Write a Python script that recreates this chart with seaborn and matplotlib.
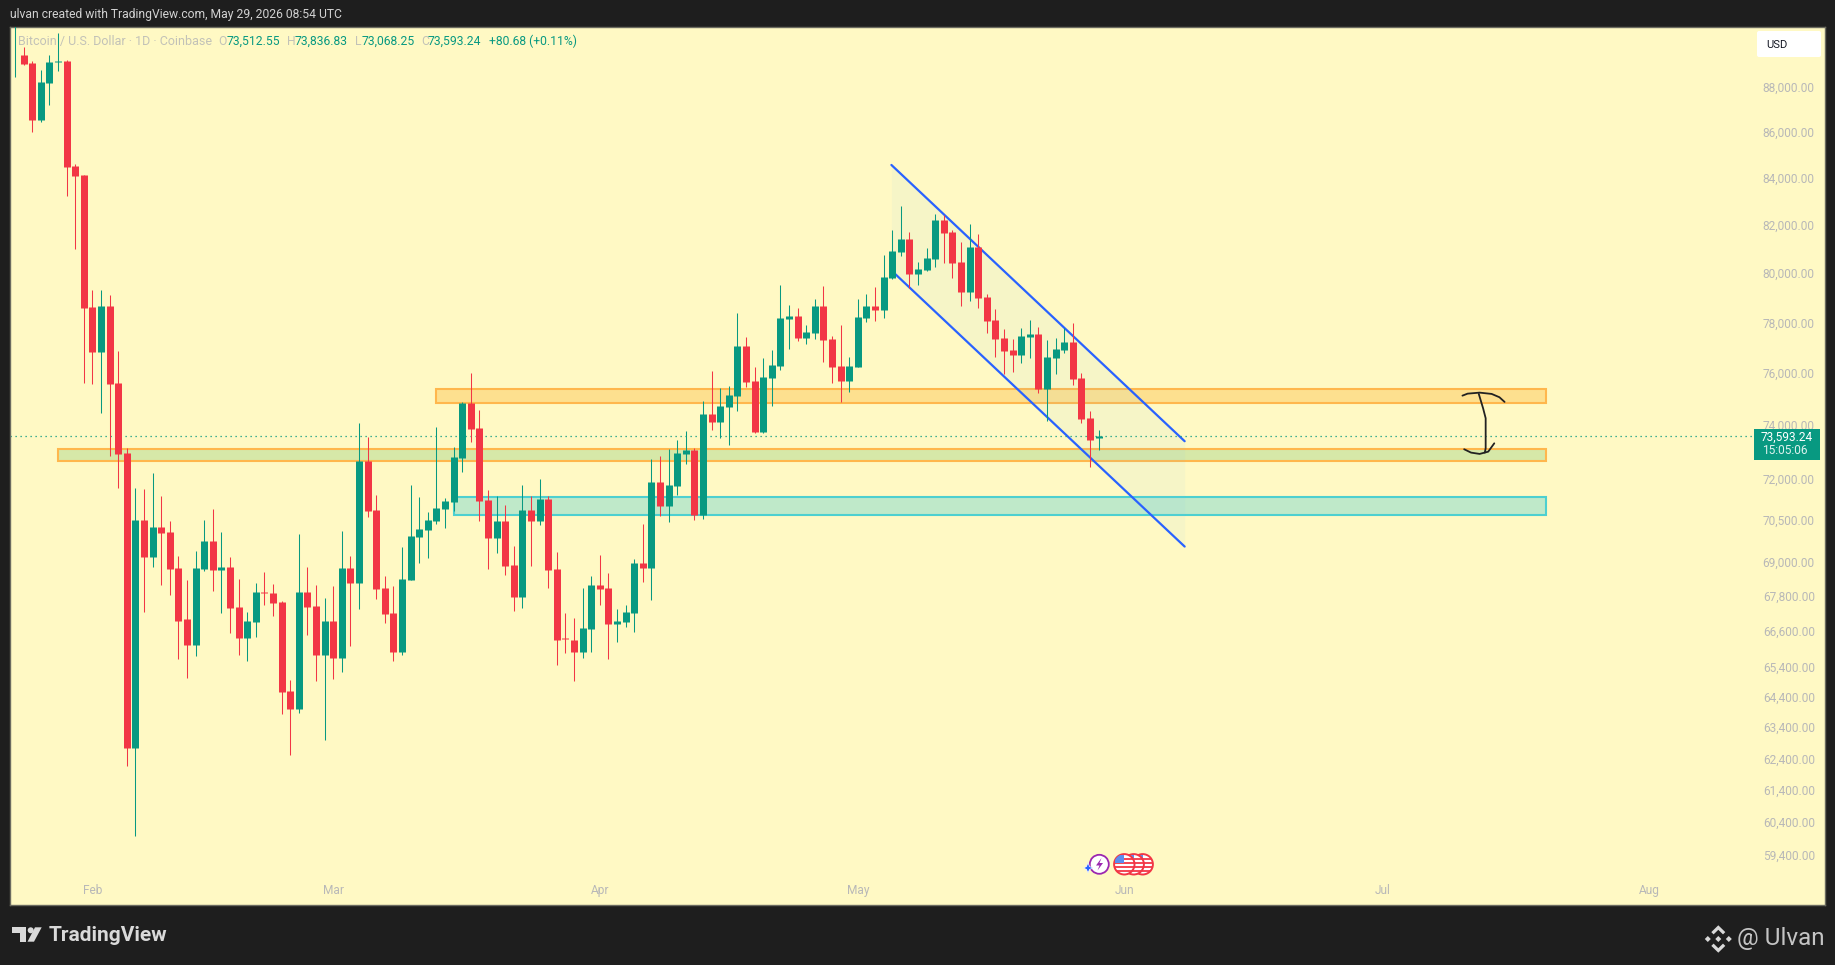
import numpy as np
import pandas as pd
import matplotlib
matplotlib.use("Agg")
import matplotlib.pyplot as plt
from matplotlib.patches import Rectangle, Circle, Polygon, FancyBboxPatch
from matplotlib.ticker import NullLocator
import seaborn as sns

# daily BTCUSD candles, Jan 23 to May 29
first_day = -9  # days since Feb 1
opens = [89420, 89442, 89079, 86521, 88173, 89116, 89170, 84505, 84118, 78623,
         76831, 78663, 75625, 72959, 62736, 70505, 69180, 70253, 70073, 68794,
         67021, 66132, 68759, 69749, 68724, 68829, 67432, 66371, 66919, 67960,
         67917, 67603, 64595, 64003, 67952, 67466, 65794, 66953, 65694, 68794,
         68268, 72663, 70865, 68092, 67226, 65894, 68373, 69893, 70145, 70469,
         70901, 71152, 72774, 74851, 73904, 71224, 69857, 70469, 68899, 67776,
         70865, 70469, 71261, 68759, 66360, 66303, 65894, 66679, 68198, 68092,
         66850, 66919, 67226, 68970, 68794, 71888, 71008, 71741, 72922, 73070,
         70685, 74434, 74131, 74699, 75120, 77067, 75703, 73752, 75820, 76287,
         78144, 78264, 77386, 77585, 78663, 77346, 76287, 75703, 76248, 78189,
         78663, 78503, 79800, 80863, 81407, 79963, 80127, 80577, 82205, 81701,
         80454, 79227, 81071, 79023, 78104, 77386, 76907, 76714, 77426, 77545,
         75392, 76598, 76907, 77226, 75820, 74283, 73512]
closes = [89460, 89034, 86521, 88218, 89124, 89156, 84462, 84075, 78583, 76831,
          78663, 75586, 72922, 62736, 70505, 69180, 70253, 70037, 68759, 66953,
          66132, 68794, 69749, 68724, 68829, 67397, 66371, 66953, 67952, 67920,
          67568, 64561, 64003, 67952, 67432, 65794, 66953, 65694, 68794, 68268,
          72663, 70829, 68057, 67192, 65894, 68408, 69929, 70181, 70505, 70937,
          71188, 72810, 74851, 73866, 71188, 69857, 70469, 68864, 67776, 70865,
          70469, 71261, 68724, 66303, 66320, 65894, 66713, 68198, 68057, 66850,
          66953, 67261, 68970, 68794, 71888, 71008, 71778, 72959, 73070, 70685,
          74434, 74131, 74737, 75159, 77067, 75664, 73752, 75859, 76326, 78189,
          78264, 77386, 77625, 78663, 77306, 76248, 75703, 76287, 78224, 78663,
          78503, 79841, 80904, 81407, 79963, 80168, 80618, 82205, 81659, 80413,
          79227, 81071, 78982, 78064, 77346, 76868, 76714, 77466, 77545, 75392,
          76637, 76947, 77226, 75781, 74245, 73449, 73593]
highs = [90800, 89821, 89170, 88762, 89442, 90467, 89215, 84604, 84118, 79309,
         79309, 79105, 76868, 73146, 71667, 71630, 72220, 71372, 70469, 69215,
         68373, 69371, 70505, 70901, 70073, 69180, 68408, 67261, 68268, 68654,
         68233, 67637, 64961, 70001, 68829, 68198, 67741, 68163, 70109, 69215,
         74093, 73563, 71409, 68513, 68163, 69533, 71778, 71335, 70793, 73942,
         71298, 73184, 74889, 76014, 74562, 71593, 71372, 71045, 69569, 71778,
         71372, 71999, 71372, 69355, 67226, 67055, 68092, 68513, 69250, 68619,
         67363, 67500, 69110, 70361, 72737, 72848, 73108, 73449, 73790, 73146,
         74927, 76092, 75431, 75509, 78383, 77426, 76248, 76598, 76907, 79514,
         78707, 78583, 77905, 78941, 79473, 77466, 77905, 76637, 78941, 79145,
         79432, 80740, 81785, 82793, 81701, 80454, 81029, 82457, 82415, 81785,
         81281, 82037, 81617, 79145, 78543, 77745, 77346, 77785, 78104, 77825,
         77306, 77386, 77785, 77985, 76014, 74540, 73836]
lows = [88460, 88989, 86004, 86402, 87184, 88717, 83215, 80987, 75625, 75586,
        74472, 72848, 71667, 62166, 59978, 67261, 68829, 68198, 67847, 65660,
        65028, 65761, 68689, 67987, 67226, 66542, 65794, 65594, 66406, 67500,
        67124, 63841, 62515, 63874, 66474, 64928, 62996, 64994, 65227, 66098,
        67363, 70613, 67706, 66884, 65594, 65794, 68350, 68970, 69145, 70361,
        70217, 70829, 72257, 73373, 70469, 68759, 69321, 68549, 67295, 67397,
        68864, 70325, 68092, 65461, 65861, 64928, 65694, 65894, 67500, 65660,
        66235, 66747, 66577, 68303, 67671, 70649, 70433, 71409, 72552, 70505,
        70541, 73828, 73525, 73260, 74548, 75470, 73720, 73714, 74737, 76131,
        76947, 77266, 77146, 77346, 76442, 75625, 74889, 75275, 76230, 78024,
        78064, 78189, 79759, 80700, 79391, 79514, 80086, 80250, 80413, 79800,
        78663, 78867, 78583, 77585, 76637, 75975, 76053, 76403, 76598, 75236,
        74169, 75975, 76792, 75548, 74093, 72441, 73068]

last_price = 73593.24

price_ticks = [88000, 86000, 84000, 82000, 80000, 78000, 76000, 74000, 72000, 70500,
               69000, 67800, 66600, 65400, 64400, 63400, 62400, 61400, 60400, 59400]
month_days = [0, 28, 59, 89, 120, 150, 181]
month_labels = ["Feb", "Mar", "Apr", "May", "Jun", "Jul", "Aug"]

# drawings: zones are (first day, last day, low, high)
resistance_zone = (40, 169, 74838, 75397)
pivot_zone = (-4, 169, 72648, 73118)
support_zone = (42, 169, 70670, 71312)
channel_days = [92.9, 127]
channel_upper = [84544, 73396]
channel_lower = [80100, 69543]

arrow_top_days = [159.3, 159.9, 161.3, 162.7, 163.6, 164.2]
arrow_top_prices = [75128, 75205, 75244, 75194, 75067, 74887]
arrow_stem_days = [161.2, 161.7, 162.0, 162.0, 161.9]
arrow_stem_prices = [75194, 74645, 74265, 73132, 72969]
arrow_low_days = [159.5, 160.3, 161.3, 162.3, 163.0]
arrow_low_prices = [73095, 72969, 72920, 73005, 73317]

GREEN = "#089981"
RED = "#F23645"
BG = "#FFF9C4"
DARK = "#1E1E1E"
ORANGE = "#FFB74D"
TEAL = "#4DD0D0"
BLUE = "#2962FF"
AXIS_TEXT = "#B8B8B8"
LEGEND_TEXT = "#C2C2B8"

W, H = 1835, 965
sns.set_theme(style="white")
plt.rcParams["font.family"] = ["Roboto", "DejaVu Sans"]

days = np.arange(len(opens)) + first_day
candles = pd.DataFrame({"day": days, "open": opens, "high": highs, "low": lows, "close": closes})
candles["side"] = np.where(candles["close"] >= candles["open"], "up", "down")
wicks = candles.melt(id_vars=["day", "side"], value_vars=["low", "high"], value_name="price")
bodies = candles.melt(id_vars=["day", "side"], value_vars=["open", "close"], value_name="price")

fig = plt.figure(figsize=(W / 100, H / 100), dpi=100, facecolor=DARK)
ax = fig.add_axes([10 / W, 1 - 905 / H, 1814.5 / W, 878 / H], facecolor=BG)
ax.set_yscale("log")

# zones and channel sit under the candles
for zone, edge, fill in [(resistance_zone, ORANGE, "#FDE08F"),
                         (pivot_zone, ORANGE, "#D6E8A8"),
                         (support_zone, TEAL, "#BFE9C9")]:
    d0, d1, p0, p1 = zone
    ax.add_patch(Rectangle((d0, p0), d1 - d0, p1 - p0, facecolor=fill, edgecolor=edge,
                           linewidth=1.5, zorder=1))
ax.fill_between(channel_days, channel_lower, channel_upper, color="#70C0FF", alpha=0.06,
                linewidth=0, zorder=1.5)
channel = pd.DataFrame({"day": channel_days * 2, "price": channel_upper + channel_lower,
                        "edge": ["upper"] * 2 + ["lower"] * 2})
sns.lineplot(data=channel, x="day", y="price", units="edge", estimator=None, color=BLUE,
             linewidth=1.6, legend=False, ax=ax, zorder=2)

ax.hlines(last_price, -9.6, 193, color=GREEN, linewidth=0.9, linestyle=(0, (1, 3)), zorder=2.5)

palette = {"up": GREEN, "down": RED}
sns.lineplot(data=wicks, x="day", y="price", units="day", hue="side", palette=palette,
             estimator=None, linewidth=0.75, legend=False, ax=ax, zorder=3, solid_capstyle="butt")
sns.lineplot(data=bodies, x="day", y="price", units="day", hue="side", palette=palette,
             estimator=None, linewidth=5.04, legend=False, ax=ax, zorder=3.5, solid_capstyle="butt")

for xs, ys in [(arrow_top_days, arrow_top_prices), (arrow_stem_days, arrow_stem_prices),
               (arrow_low_days, arrow_low_prices)]:
    ax.plot(xs, ys, color="#222222", linewidth=1.3, zorder=5, solid_capstyle="round")

ax.set_xlim(-9.59, 201.4)
ax.set_ylim(57886, 90730)
ax.set_xlabel("")
ax.set_ylabel("")

ax.set_xticks(month_days, month_labels)
ax.xaxis.set_minor_locator(NullLocator())
ax.tick_params(axis="x", length=0, pad=-15, labelsize=8.6, labelcolor=AXIS_TEXT)
ax.set_yticks(price_ticks, [f"{p:,.2f}" for p in price_ticks])
ax.yaxis.set_minor_locator(NullLocator())
ax.yaxis.tick_right()
ax.tick_params(axis="y", length=0, pad=-7, labelsize=8.6, labelcolor=AXIS_TEXT)
for tick in ax.yaxis.get_major_ticks():
    tick.label2.set_horizontalalignment("right")
for spine in ax.spines.values():
    spine.set_color("#6B6B60")
    spine.set_linewidth(1)
ax.grid(False)

# everything around the plot is placed in screen pixels on a full-figure overlay
ov = fig.add_axes([0, 0, 1, 1], zorder=10)
ov.set_xlim(0, W)
ov.set_ylim(H, 0)
ov.axis("off")

ov.text(10, 14.7, "ulvan created with TradingView.com, May 29, 2026 08:54 UTC",
        color="#D2D2D2", fontsize=8.7, va="center")

ov.text(18, 41.7, "Bitcoin / U.S. Dollar · 1D · Coinbase", color=LEGEND_TEXT, fontsize=9, va="center")
for x, letter, vx, val in [(218.7, "O", 227, "73,512.55"), (286.7, "H", 295, "73,836.83"),
                           (355, "L", 361.8, "73,068.25"), (421, "C", 428, "73,593.24")]:
    ov.text(x, 41.7, letter, color=LEGEND_TEXT, fontsize=8.7, va="center")
    ov.text(vx, 41.7, val, color=GREEN, fontsize=8.7, va="center")
ov.text(489, 41.7, "+80.68 (+0.11%)", color=GREEN, fontsize=8.7, va="center")

ov.add_patch(FancyBboxPatch((1759, 33), 60, 22, boxstyle="round,pad=2,rounding_size=2",
                            facecolor="white", edgecolor="none"))
ov.text(1766, 44.5, "USD", color="#131722", fontsize=8, va="center")

ov.add_patch(Rectangle((1754, 429.3), 65.7, 30.7, facecolor=GREEN, edgecolor="none"))
ov.text(1787, 436.9, "73,593.24", color="white", fontsize=8.6, va="center", ha="center")
ov.text(1762, 450.8, "15:05:06", color="#DDF2EE", fontsize=8.6, va="center")

# event icons near the bottom of the panel
ov.add_patch(Circle((1099.3, 864.3), 9.5, facecolor="white", edgecolor="#9C27B0", linewidth=1.3))
ov.add_patch(Polygon([(1101.5, 858), (1096, 865.5), (1099.5, 865.5), (1097.5, 870.5),
                      (1103, 863), (1099.5, 863)], facecolor="#9C27B0", edgecolor="none"))
ov.add_patch(Polygon([(1088, 862.5), (1089.5, 866.5), (1093, 868), (1089.5, 869.5),
                      (1088, 873), (1086.5, 869.5), (1083.5, 868), (1086.5, 866.5)],
                     facecolor="#2962FF", edgecolor="white", linewidth=0.5))
for cx in [1142.7, 1133.7, 1124.3]:
    disc = Circle((cx, 864.3), 10.2, facecolor="white", edgecolor=RED, linewidth=1.4, zorder=3)
    ov.add_patch(disc)
    for dy in [-5.5, -1.5, 2.5, 6.5]:
        stripe, = ov.plot([cx - 10, cx + 10], [864.3 + dy] * 2, color=RED, linewidth=1.3, zorder=3)
        stripe.set_clip_path(disc)
    canton = Rectangle((cx - 9, 855), 9, 8, facecolor="#5B8DEF", edgecolor="none", zorder=3)
    ov.add_patch(canton)
    canton.set_clip_path(disc)

# footer
LOGO = "#D9D9D9"
ov.add_patch(Polygon([(12, 927.3), (26, 927.3), (26, 941.7), (20, 941.7), (20, 933.3), (12, 933.3)],
                     facecolor=LOGO, edgecolor="none"))
ov.add_patch(Circle((30.7, 930.3), 3, facecolor=LOGO, edgecolor="none"))
ov.add_patch(Polygon([(35, 927.3), (41.7, 927.3), (34, 941.7), (27.5, 941.7)],
                     facecolor=LOGO, edgecolor="none"))
ov.text(49, 935.3, "TradingView", color=LOGO, fontsize=15, fontweight="bold", va="center")

cx, cy = 1718.3, 939
for sign in [-1, 1]:
    ov.add_patch(Polygon([(cx, cy + sign * 13.7), (cx + 7, cy + sign * 6.9), (cx + 4.7, cy + sign * 4.6),
                          (cx, cy + sign * 9.2), (cx - 4.7, cy + sign * 4.6), (cx - 7, cy + sign * 6.9)],
                         facecolor=LOGO, edgecolor="none"))
for dx in [-10.5, 0, 10.5]:
    ov.add_patch(Polygon([(cx + dx, cy - 3), (cx + dx + 3, cy), (cx + dx, cy + 3), (cx + dx - 3, cy)],
                         facecolor=LOGO, edgecolor="none"))
ov.text(1825, 938.5, "@ Ulvan", color="#C4C4C4", fontsize=17.5, va="center", ha="right")

fig.savefig("out.png", dpi=100, facecolor=DARK)
